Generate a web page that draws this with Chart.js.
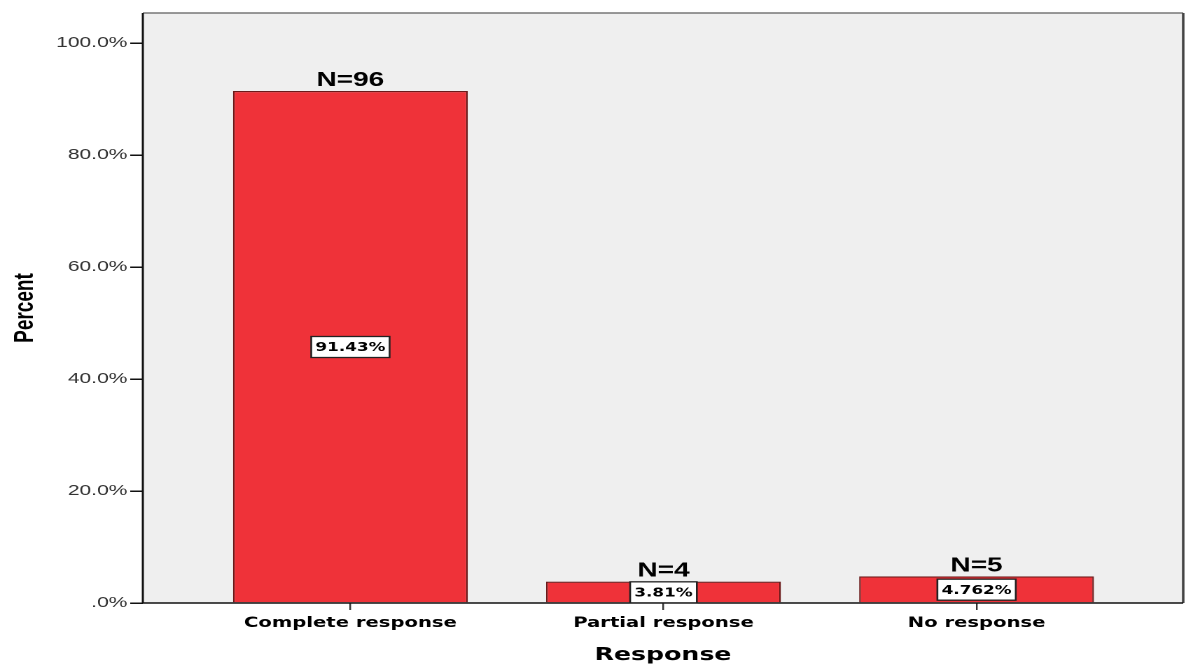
<!DOCTYPE html>
<html>
<head>
<meta charset="utf-8">
<script src="https://cdn.jsdelivr.net/npm/chart.js@4/dist/chart.umd.min.js"></script>
<style>
  html, body { margin: 0; padding: 0; background: #fff; overflow: hidden; }
  /* the reference is stretched sideways, so draw narrower and widen it */
  #wrap { width: 847px; height: 664px; position: relative; transform: scaleX(1.40024); transform-origin: 0 0; }
</style>
</head>
<body>
<div id="wrap"><canvas id="chart"></canvas></div>
<script>
// data
const categories = ['Complete response', 'Partial response', 'No response'];
const percents = [91.43, 3.81, 4.762];
const percentLabels = ['91.43%', '3.81%', '4.762%'];
const counts = [96, 4, 5];
const yTicks = [0, 20, 40, 60, 80, 100];

const ARIAL = '"Liberation Sans", Arial, sans-serif';
const WIDE = '"DejaVu Sans", Verdana, sans-serif';

// plot background + frame
const framePlugin = {
    id: 'frame',
    beforeDraw(chart) {
        const { ctx, chartArea: a } = chart;
        ctx.save();
        ctx.fillStyle = '#efefef';
        ctx.fillRect(a.left, a.top, a.right - a.left, a.bottom - a.top);
        ctx.restore();
    },
    afterDatasetsDraw(chart) {
        const { ctx, chartArea: a } = chart;
        ctx.save();
        ctx.lineWidth = 1.6;
        ctx.strokeStyle = '#777';
        ctx.beginPath();
        ctx.moveTo(a.left, a.top);
        ctx.lineTo(a.right, a.top);
        ctx.stroke();
        ctx.strokeStyle = '#444';
        ctx.lineWidth = 1.8;
        ctx.beginPath();
        ctx.moveTo(a.right, a.top);
        ctx.lineTo(a.right, a.bottom);
        ctx.stroke();
        ctx.strokeStyle = '#111';
        ctx.lineWidth = 1.5;
        ctx.beginPath();
        ctx.moveTo(a.left, a.top);
        ctx.lineTo(a.left, a.bottom);
        ctx.lineTo(a.right, a.bottom);
        ctx.stroke();
        ctx.restore();
    }
};

// "N=.." above each bar and boxed percent in the middle
const labelPlugin = {
    id: 'barLabels',
    afterDatasetsDraw(chart) {
        const { ctx } = chart;
        const meta = chart.getDatasetMeta(0);
        const yScale = chart.scales.y;
        ctx.save();
        meta.data.forEach((bar, i) => {
            ctx.fillStyle = '#000';
            ctx.font = 'bold 20px ' + ARIAL;
            ctx.textAlign = 'center';
            ctx.textBaseline = 'alphabetic';
            ctx.fillText('N=' + counts[i], bar.x, bar.y - 5);

            const mid = yScale.getPixelForValue(percents[i] / 2);
            ctx.font = 'bold 12px ' + WIDE;
            const w = ctx.measureText(percentLabels[i]).width + 6;
            const h = 21;
            ctx.fillStyle = '#fff';
            ctx.fillRect(bar.x - w / 2, mid - h / 2, w, h);
            ctx.strokeStyle = '#222';
            ctx.lineWidth = 1.3;
            ctx.strokeRect(bar.x - w / 2, mid - h / 2, w, h);
            ctx.fillStyle = '#000';
            ctx.textBaseline = 'middle';
            ctx.fillText(percentLabels[i], bar.x, mid + 1);
        });
        ctx.restore();
    }
};

new Chart(document.getElementById('chart'), {
    type: 'bar',
    data: {
        datasets: [{
            data: percents.map((v, i) => ({ x: i, y: v })),
            backgroundColor: '#ef3239',
            borderColor: '#6b1a1a',
            borderWidth: 1.2,
            barPercentage: 1,
            categoryPercentage: 0.75
        }]
    },
    options: {
        responsive: true,
        maintainAspectRatio: false,
        animation: false,
        devicePixelRatio: 2,
        layout: { padding: { top: 13, right: 2, left: 7, bottom: 0 } },
        plugins: { legend: { display: false }, tooltip: { enabled: false } },
        scales: {
            x: {
                type: 'linear',
                min: -0.663,
                max: 2.66,
                offset: false,
                afterBuildTicks(scale) {
                    scale.ticks = categories.map((c, i) => ({ value: i }));
                },
                afterFit(scale) { scale.height = 61; },
                grid: {
                    offset: false,
                    drawOnChartArea: false,
                    drawTicks: true,
                    tickLength: 7,
                    color: '#333',
                    lineWidth: 1.2
                },
                border: { display: false },
                ticks: {
                    autoSkip: false,
                    maxRotation: 0,
                    padding: 5,
                    color: '#000',
                    font: { family: WIDE, size: 14, weight: 'bold' },
                    callback: (v) => categories[v] ?? ''
                },
                title: {
                    display: true,
                    text: 'Response',
                    color: '#000',
                    font: { family: WIDE, size: 18, weight: 'bold' },
                    padding: { top: 4, bottom: -2 }
                }
            },
            y: {
                min: 0,
                max: 105.36,
                afterBuildTicks(scale) {
                    scale.ticks = yTicks.map(v => ({ value: v }));
                },
                afterFit(scale) { scale.width = 95; },
                grid: {
                    drawOnChartArea: false,
                    drawTicks: true,
                    tickLength: 9,
                    color: '#111',
                    lineWidth: 1.5
                },
                border: { display: false },
                ticks: {
                    padding: 2,
                    color: '#333',
                    font: { family: ARIAL, size: 15 },
                    callback: (v) => (v === 0 ? '.0%' : v.toFixed(1) + '%')
                },
                title: {
                    display: true,
                    text: 'Percent',
                    color: '#000',
                    font: { family: ARIAL, size: 19, weight: 'bold' },
                    padding: { top: 0, bottom: 0 }
                }
            }
        }
    },
    plugins: [framePlugin, labelPlugin]
});
</script>
</body>
</html>
